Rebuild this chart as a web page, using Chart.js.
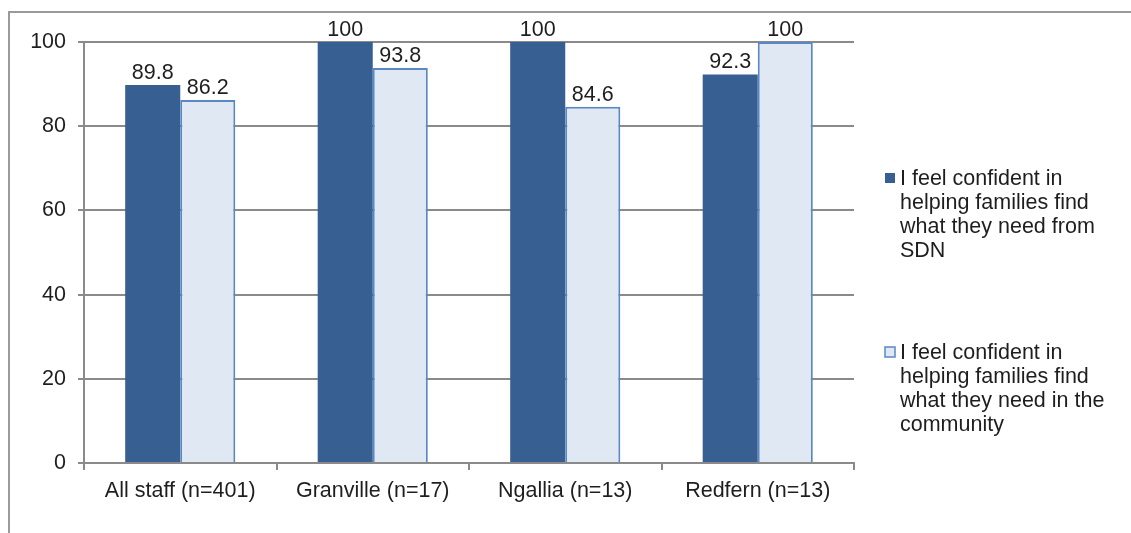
<!DOCTYPE html>
<html>
<head>
<meta charset="utf-8">
<script src="https://cdn.jsdelivr.net/npm/chart.js@4.4.1/dist/chart.umd.min.js"></script>
<style>
  html, body { margin: 0; padding: 0; background: #fff; }
  #wrap { width: 1131px; height: 533px; }
</style>
</head>
<body>
<div id="wrap"><canvas id="c" width="1131" height="533"></canvas></div>
<script>
const categories = ['All staff (n=401)', 'Granville (n=17)', 'Ngallia (n=13)', 'Redfern (n=13)'];
const fromSDN = [89.8, 100, 100, 92.3];
const inCommunity = [86.2, 93.8, 84.6, 100];
const seriesNames = [
  ['I feel confident in', 'helping families find', 'what they need from', 'SDN'],
  ['I feel confident in', 'helping families find', 'what they need in the', 'community']
];
const yTicks = [0, 20, 40, 60, 80, 100];

const FONT = '"Liberation Sans", Arial, Helvetica, sans-serif';
const FSIZE = 21.5;
const TEXT = '#1e1e1e';
const GRID = '#8a8a8a';

// Outer frame lines along the top and left edges
const framePlugin = {
  id: 'frame',
  beforeDraw(chart) {
    const ctx = chart.ctx;
    ctx.save();
    ctx.strokeStyle = '#9a9a9a';
    ctx.lineWidth = 2;
    ctx.beginPath();
    ctx.moveTo(9, 533);
    ctx.lineTo(9, 12);
    ctx.lineTo(1131, 12);
    ctx.stroke();
    ctx.restore();
  }
};

// Value labels above each bar
const valueLabels = {
  id: 'valueLabels',
  afterDatasetsDraw(chart) {
    const ctx = chart.ctx;
    ctx.save();
    ctx.font = FSIZE + 'px ' + FONT;
    ctx.fillStyle = TEXT;
    ctx.textAlign = 'center';
    ctx.textBaseline = 'alphabetic';
    chart.data.datasets.forEach((ds, i) => {
      chart.getDatasetMeta(i).data.forEach((bar, j) => {
        ctx.fillText(String(ds.data[j]), bar.x, bar.y - 6);
      });
    });
    ctx.restore();
  }
};

// Legend on the right with wrapped labels
const sideLegend = {
  id: 'sideLegend',
  afterDraw(chart) {
    const ctx = chart.ctx;
    const tops = [185, 359];
    ctx.save();
    ctx.font = FSIZE + 'px ' + FONT;
    ctx.textAlign = 'left';
    ctx.textBaseline = 'alphabetic';
    chart.data.datasets.forEach((ds, i) => {
      const base = tops[i];
      ctx.fillStyle = ds.backgroundColor;
      ctx.fillRect(885, base - 12, 10, 10);
      if (ds.borderWidth) {
        ctx.strokeStyle = ds.borderColor;
        ctx.lineWidth = 1.5;
        ctx.strokeRect(885, base - 12, 10, 10);
      }
      ctx.fillStyle = TEXT;
      seriesNames[i].forEach((line, k) => {
        ctx.fillText(line, 900, base + k * 24);
      });
    });
    ctx.restore();
  }
};

new Chart(document.getElementById('c'), {
  type: 'bar',
  data: {
    labels: categories,
    datasets: [
      {
        label: seriesNames[0].join(' '),
        data: fromSDN,
        backgroundColor: '#375f91',
        borderColor: '#375f91',
        borderWidth: 0,
        categoryPercentage: 0.572,
        barPercentage: 1
      },
      {
        label: seriesNames[1].join(' '),
        data: inCommunity,
        backgroundColor: '#e0e8f3',
        borderColor: '#5a88c4',
        borderWidth: 2,
        categoryPercentage: 0.572,
        barPercentage: 1
      }
    ]
  },
  options: {
    responsive: false,
    animation: false,
    devicePixelRatio: 1,
    layout: { padding: { left: 0, top: 42, right: 277, bottom: 0 } },
    plugins: { legend: { display: false }, tooltip: { enabled: false } },
    scales: {
      x: {
        grid: { display: true, drawOnChartArea: false, drawTicks: true, tickLength: 7, color: GRID, lineWidth: 2, offset: true },
        border: { display: true, color: GRID, width: 2 },
        ticks: { font: { size: FSIZE, family: FONT }, color: TEXT, padding: 8, maxRotation: 0 },
        afterFit(scale) { scale.height = 70; }
      },
      y: {
        min: 0,
        max: 100,
        afterBuildTicks(scale) { scale.ticks = yTicks.map(v => ({ value: v })); },
        grid: { color: GRID, lineWidth: 2, drawTicks: true, tickLength: 6 },
        border: { display: true, color: GRID, width: 2 },
        ticks: { font: { size: FSIZE, family: FONT }, color: TEXT, padding: 12 },
        afterFit(scale) { scale.width = 84; }
      }
    }
  },
  plugins: [framePlugin, valueLabels, sideLegend]
});
</script>
</body>
</html>
